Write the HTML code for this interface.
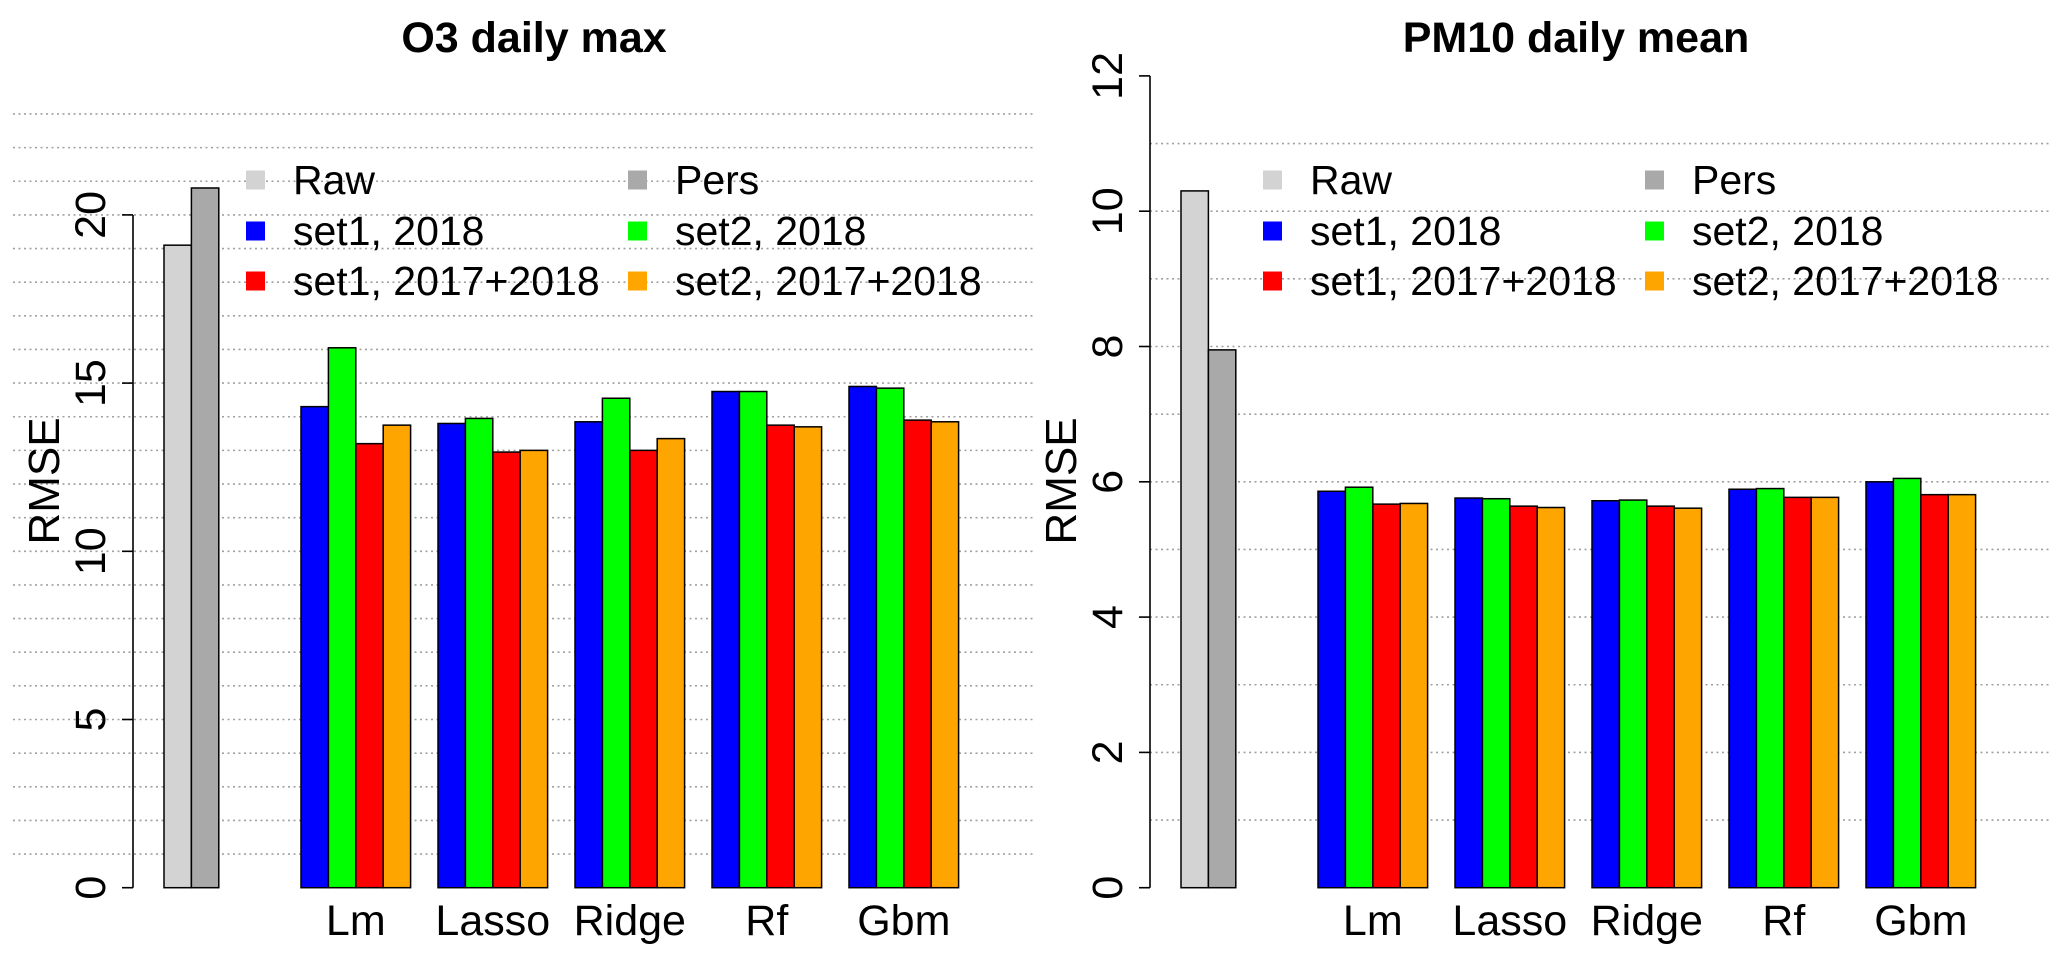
<!DOCTYPE html>
<html><head><meta charset="utf-8"><style>
html,body{margin:0;padding:0;background:#fff;}
svg{display:block;font-family:"Liberation Sans",Arial,sans-serif;}
</style></head><body>
<svg id="chart" width="2067" height="961" viewBox="0 0 2067 961" xmlns="http://www.w3.org/2000/svg"></svg>
<script>
const groups = ["", "Lm", "Lasso", "Ridge", "Rf", "Gbm"];
const seriesNames = ["Raw", "Pers", "set1, 2018", "set2, 2018", "set1, 2017+2018", "set2, 2017+2018"];
const o3Baseline = [19.1, 20.8];
const o3Set1_2018 = [14.3, 13.8, 13.85, 14.75, 14.9];
const o3Set2_2018 = [16.05, 13.95, 14.55, 14.75, 14.85];
const o3Set1_1718 = [13.2, 12.95, 13.0, 13.75, 13.9];
const o3Set2_1718 = [13.75, 13.0, 13.35, 13.7, 13.85];
const pmBaseline = [10.3, 7.95];
const pmSet1_2018 = [5.86, 5.76, 5.72, 5.89, 6.0];
const pmSet2_2018 = [5.92, 5.75, 5.73, 5.9, 6.05];
const pmSet1_1718 = [5.67, 5.64, 5.64, 5.77, 5.81];
const pmSet2_1718 = [5.68, 5.62, 5.61, 5.77, 5.81];
const o3Ticks = [0, 5, 10, 15, 20];
const pmTicks = [0, 2, 4, 6, 8, 10, 12];

const NS = "http://www.w3.org/2000/svg";
const svg = document.getElementById("chart");
const colors = ["#d3d3d3", "#a9a9a9", "#0000ff", "#00ff00", "#ff0000", "#ffa500"];
function mk(tag, attrs, parent) {
  const e = document.createElementNS(NS, tag);
  for (const k in attrs) e.setAttribute(k, attrs[k]);
  (parent || svg).appendChild(e);
  return e;
}

function panel(cfg) {
  const g = mk("g", {});
  
  
  const y = v => cfg.y0 - v * cfg.unit;
  for (let v = 1; v <= cfg.gridMax; v++) {
    const l = mk("line", {x1: cfg.gridX1, x2: cfg.gridX2, y1: y(v), y2: y(v), stroke: "#a0a0a0", "stroke-width": 1.6, "stroke-dasharray": "2 3.5"}, g);
    
    
  }
  const t = mk("text", {x: cfg.titleX, y: 52, "text-anchor": "middle", "font-size": 43, "font-weight": "bold"}, g);
  t.textContent = cfg.title;
  
  
  const ax = mk("line", {x1: cfg.axisX, x2: cfg.axisX, y1: y(cfg.ticks[0]), y2: y(cfg.ticks[cfg.ticks.length - 1]), stroke: "#000", "stroke-width": 1.6}, g);
  
  
  cfg.ticks.forEach(v => {
    const tk = mk("line", {x1: cfg.axisX - 11, x2: cfg.axisX, y1: y(v), y2: y(v), stroke: "#000", "stroke-width": 1.6}, g);
    
    
    const tx = mk("text", {x: 0, y: 0, "text-anchor": "middle", "font-size": 43, transform: `translate(${cfg.axisX - 28},${y(v)}) rotate(-90)`}, g);
    tx.textContent = v;
    
    
  });
  const yt = mk("text", {x: 0, y: 0, "text-anchor": "middle", "font-size": 44, transform: `translate(${cfg.axisX - 74},481) rotate(-90)`}, g);
  yt.textContent = "RMSE";
  
  
  const bw = 27.4;
  const vals = [cfg.base.concat([0, 0])];
  for (let i = 0; i < 5; i++) vals.push([cfg.s1[i], cfg.s2[i], cfg.s3[i], cfg.s4[i]]);
  vals.forEach((arr, gi) => {
    const gx = cfg.barX + gi * bw * 5;
    arr.forEach((v, bi) => {
      const col = gi === 0 ? (bi < 2 ? colors[bi] : "none") : colors[bi + 2];
      const r = mk("rect", {x: gx + bi * bw, y: y(v), width: bw, height: v * cfg.unit, fill: col, stroke: "#000", "stroke-width": 1.5}, g);
      
      
    });
    if (groups[gi]) {
      const lx = mk("text", {x: gx + bw * 2, y: 935, "text-anchor": "middle", "font-size": 43}, g);
      lx.textContent = groups[gi];
      
      
    }
  });
  const rows = [180, 231, 281];
  seriesNames.forEach((n, i) => {
    const col = i % 2, row = Math.floor(i / 2);
    const sx = cfg.legX + col * 382;
    const sq = mk("rect", {x: sx, y: rows[row] - 9.5, width: 19, height: 19, fill: colors[i]}, g);
    
    
    const lt = mk("text", {x: sx + 47, y: rows[row] + 14, "font-size": 41}, g);
    lt.textContent = n;
    
    
  });
}

panel({name: "o3-panel", title: "O3 daily max", titleX: 534, y0: 887.7, unit: 33.64, gridMax: 23, gridX1: 13, gridX2: 1034,
  axisX: 133, ticks: o3Ticks, barX: 164, base: o3Baseline, s1: o3Set1_2018, s2: o3Set2_2018, s3: o3Set1_1718, s4: o3Set2_1718, legX: 246});
panel({name: "pm10-panel", title: "PM10 daily mean", titleX: 1576, y0: 887.7, unit: 67.65, gridMax: 11, gridX1: 1150, gridX2: 2052,
  axisX: 1150, ticks: pmTicks, barX: 1181, base: pmBaseline, s1: pmSet1_2018, s2: pmSet2_2018, s3: pmSet1_1718, s4: pmSet2_1718, legX: 1263});
</script>
</body></html>
